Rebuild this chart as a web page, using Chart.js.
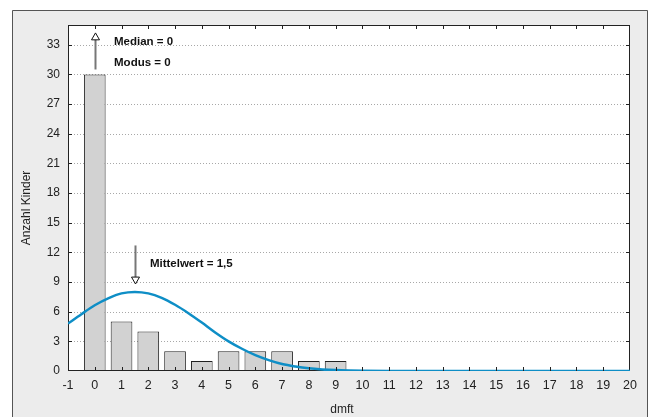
<!DOCTYPE html>
<html><head><meta charset="utf-8">
<script src="https://cdn.jsdelivr.net/npm/chart.js@4/dist/chart.umd.min.js"></script>
<style>html,body{margin:0;padding:0;background:#fff}#wrap{width:649px;height:417px;position:relative}</style>
</head><body><div id="wrap"><canvas id="c" width="649" height="417"></canvas></div>
<script>
// ---- data ----
const categories = [0, 1, 2, 3, 4, 5, 6, 7, 8, 9];
const counts = [30, 5, 4, 2, 1, 2, 2, 2, 1, 1];
const curveX = [-1, -0.5, 0, 0.5, 1, 1.5, 2, 2.5, 3, 3.5, 4, 4.5, 5, 5.5, 6, 6.5, 7, 7.5, 8, 8.5, 9, 9.5, 10, 11, 12, 13, 14, 15, 16, 17, 18, 19, 20];
const curveY = [4.8, 5.75, 6.65, 7.35, 7.85, 8.0, 7.85, 7.4, 6.7, 5.85, 4.9, 3.9, 3.0, 2.25, 1.6, 1.1, 0.7, 0.45, 0.27, 0.16, 0.09, 0.05, 0.025, 0.005, 0, 0, 0, 0, 0, 0, 0, 0, 0];
const xTicks = [-1, 0, 1, 2, 3, 4, 5, 6, 7, 8, 9, 10, 11, 12, 13, 14, 15, 16, 17, 18, 19, 20];
const yTicks = [0, 3, 6, 9, 12, 15, 18, 21, 24, 27, 30, 33];
const xTitle = 'dmft';
const yTitle = 'Anzahl Kinder';
const medianText = 'Median = 0';
const modusText = 'Modus = 0';
const meanText = 'Mittelwert = 1,5';
const medianValue = 0;
const meanValue = 1.5;

Chart.defaults.font.family = '"Liberation Sans", Arial, sans-serif';
Chart.defaults.color = '#222';

const deco = {
  id: 'deco',
  beforeDraw(chart) {
    const ctx = chart.ctx, a = chart.chartArea;
    ctx.save();
    ctx.fillStyle = '#fff'; ctx.fillRect(0, 0, 649, 417);
    ctx.fillStyle = '#ececec'; ctx.fillRect(12, 10, 636, 420);
    ctx.strokeStyle = '#555'; ctx.lineWidth = 1;
    ctx.beginPath(); ctx.moveTo(12.5, 420); ctx.lineTo(12.5, 10.5); ctx.lineTo(647.5, 10.5); ctx.lineTo(647.5, 420); ctx.stroke();
    ctx.fillStyle = '#fff'; ctx.fillRect(a.left, a.top, a.right - a.left, a.bottom - a.top);
    const ys = chart.scales.y;
    ctx.strokeStyle = '#a8a8a8'; ctx.setLineDash([1, 2]);
    yTicks.forEach(v => {
      if (v === 0) return;
      const p = Math.round(ys.getPixelForValue(v)) + 0.5;
      ctx.beginPath(); ctx.moveTo(a.left, p); ctx.lineTo(a.right, p); ctx.stroke();
    });
    ctx.restore();
  },
  beforeDatasetsDraw(chart) {
    const ctx = chart.ctx, a = chart.chartArea;
    ctx.save();
    ctx.strokeStyle = '#222'; ctx.lineWidth = 1;
    ctx.strokeRect(a.left + 0.5, a.top + 0.5, a.right - a.left - 1, a.bottom - a.top - 1);
    ctx.restore();
  },
  afterDatasetsDraw(chart) {
    const ctx = chart.ctx, a = chart.chartArea;
    const xs = chart.scales.x, ys = chart.scales.y;
    ctx.save();
    ctx.strokeStyle = '#222'; ctx.lineWidth = 1;
    ctx.beginPath();
    xTicks.forEach(v => {
      const p = Math.round(xs.getPixelForValue(v)) + 0.5;
      if (p <= a.left + 1 || p >= a.right - 1) return;
      ctx.moveTo(p, a.top); ctx.lineTo(p, a.top + 4);
      ctx.moveTo(p, a.bottom); ctx.lineTo(p, a.bottom - 4);
    });
    yTicks.forEach(v => {
      const p = Math.round(ys.getPixelForValue(v)) + 0.5;
      if (p >= a.bottom - 1) return;
      ctx.moveTo(a.left, p); ctx.lineTo(a.left + 4, p);
      ctx.moveTo(a.right, p); ctx.lineTo(a.right - 4, p);
    });
    ctx.stroke();

    // arrows
    const drawArrow = (xv, yFrom, yTo, tipY) => {
      const px = Math.round(xs.getPixelForValue(xv)) + 0.5;
      const p1 = ys.getPixelForValue(yFrom), p2 = ys.getPixelForValue(yTo), pt = ys.getPixelForValue(tipY);
      ctx.strokeStyle = '#777'; ctx.lineWidth = 2;
      ctx.beginPath(); ctx.moveTo(px, p1); ctx.lineTo(px, p2); ctx.stroke();
      ctx.fillStyle = '#fff'; ctx.strokeStyle = '#111'; ctx.lineWidth = 1;
      ctx.beginPath(); ctx.moveTo(px, pt); ctx.lineTo(px - 4, p2); ctx.lineTo(px + 4, p2); ctx.closePath();
      ctx.fill(); ctx.stroke();
    };
    drawArrow(medianValue, 30.5, 33.5, 34.2);
    drawArrow(meanValue, 12.7, 9.5, 8.8);

    ctx.fillStyle = '#111';
    ctx.font = 'bold 11.5px "Liberation Sans", Arial, sans-serif';
    ctx.textBaseline = 'middle'; ctx.textAlign = 'left';
    ctx.fillText(medianText, xs.getPixelForValue(0.72), ys.getPixelForValue(33.3));
    ctx.fillText(modusText, xs.getPixelForValue(0.72), ys.getPixelForValue(31.2));
    ctx.fillText(meanText, xs.getPixelForValue(2.06), ys.getPixelForValue(10.8));

    // axis titles
    ctx.fillStyle = '#222';
    ctx.font = '12px "Liberation Sans", Arial, sans-serif';
    ctx.textAlign = 'center';
    ctx.fillText(xTitle, 342, 410);
    ctx.translate(27, 208); ctx.rotate(-Math.PI / 2);
    ctx.fillText(yTitle, 0, 0);
    ctx.restore();
  }
};

new Chart(document.getElementById('c'), {
  type: 'bar',
  data: {
    datasets: [
      {
        type: 'line',
        order: 0,
        data: curveX.map((x, i) => ({ x: x, y: curveY[i] })),
        borderColor: '#0e8ec6',
        borderWidth: 2.5,
        pointRadius: 0,
        fill: false,
        cubicInterpolationMode: 'monotone'
      },
      {
        type: 'bar',
        order: 1,
        data: categories.map((c, i) => ({ x: c, y: counts[i] })),
        backgroundColor: '#d2d2d2',
        borderColor: '#222',
        borderWidth: 1,
        borderSkipped: false,
        barPercentage: 0.81,
        categoryPercentage: 1
      }
    ]
  },
  options: {
    responsive: false,
    animation: false,
    devicePixelRatio: 1,
    layout: { padding: { left: 0, top: 25, right: 19, bottom: 0 } },
    plugins: { legend: { display: false }, tooltip: { enabled: false } },
    scales: {
      x: {
        type: 'linear', min: -1, max: 20, offset: false,
        afterBuildTicks: s => { s.ticks = xTicks.map(v => ({ value: v })); },
        afterFit: s => { s.height = 46; },
        grid: { display: false, drawTicks: false },
        border: { display: false },
        ticks: { font: { size: 12.5 }, color: '#222', padding: 7, maxRotation: 0, autoSkip: false }
      },
      y: {
        type: 'linear', min: 0, max: 35,
        afterBuildTicks: s => { s.ticks = yTicks.map(v => ({ value: v })); },
        afterFit: s => { s.width = 68; },
        grid: { display: false, drawTicks: false },
        border: { display: false },
        ticks: { font: { size: 12 }, color: '#222', padding: 8, autoSkip: false }
      }
    }
  },
  plugins: [deco]
});
</script>
</body></html>
